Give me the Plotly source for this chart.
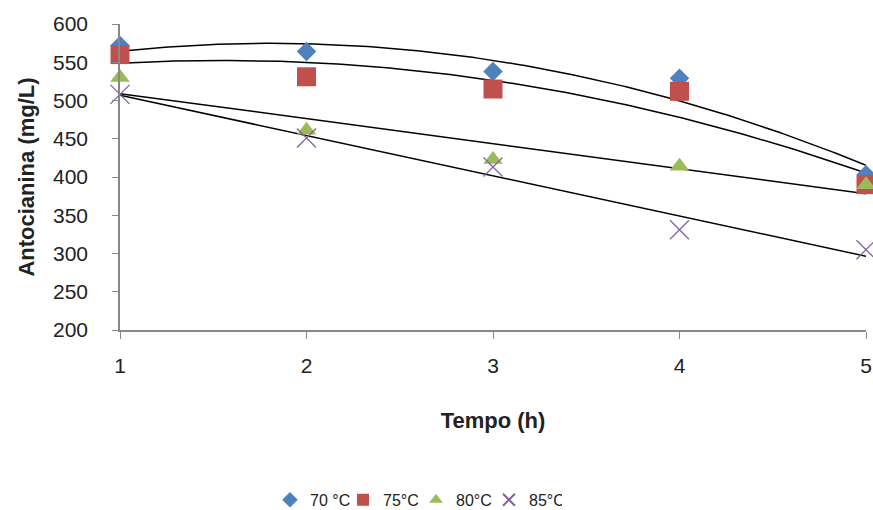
import numpy as np
import plotly.graph_objects as go

tempo = [1, 2, 3, 4, 5]
s70 = [572, 564, 538, 529, 403]
s75 = [560, 531, 515, 512, 390]
s80 = [530, 461, 423, 414, 390]
s85 = [508, 451, 413, 331, 305]
names = ["70 °C", "75°C", "80°C", "85°C"]
colors = ["#4F81BD", "#C0504D", "#9BBB59", "#8064A2"]
symbols = ["diamond", "square", "triangle-up", "x-thin-open"]
sizes = [15, 19, 17, 19]
trend_order = [2, 2, 1, 1]

fig = go.Figure()
xs = np.linspace(1, 5, 200)
for ys, order in zip([s70, s75, s80, s85], trend_order):
    c = np.polyfit(tempo, ys, order)
    fig.add_trace(go.Scatter(x=xs, y=np.polyval(c, xs), mode="lines",
                             line=dict(color="black", width=1.5),
                             showlegend=False, hoverinfo="skip"))
for ys, n, col, sym, sz in zip([s70, s75, s80, s85], names, colors, symbols, sizes):
    marker = dict(symbol=sym, size=sz, color=col)
    if sym == "x-thin-open":
        marker["line"] = dict(color="#A493CB", width=1.3)
    fig.add_trace(go.Scatter(x=tempo, y=ys, mode="markers", name=n, marker=marker,
                             cliponaxis=False))

axfont = dict(family="Liberation Sans", size=21, color="#222")
fig.update_layout(
    width=873, height=510,
    margin=dict(l=120, r=7, t=24, b=180),
    plot_bgcolor="white", paper_bgcolor="white",
    font=dict(family="Liberation Sans", color="#222"),
    xaxis=dict(range=[1, 5], tickvals=tempo, ticks="outside", ticklen=7,
               tickcolor="#888", showline=True, linecolor="#888", linewidth=1.5,
               showgrid=False, zeroline=False, tickfont=axfont, ticklabelstandoff=9,
               automargin=False,
               title=dict(text="<b>Tempo (h)</b>", font=dict(size=22), standoff=37)),
    yaxis=dict(range=[200, 600], dtick=50, ticks="outside", ticklen=6,
               tickcolor="#888", showline=True, linecolor="#888", linewidth=1.5,
               showgrid=False, zeroline=False, tickfont=axfont, ticklabelstandoff=20,
               automargin=False,
               title=dict(text="<b>Antocianina (mg/L)</b>", font=dict(size=22), standoff=12)),
    legend=dict(orientation="h", xref="container", yref="container",
                x=0.4765, y=0.02, xanchor="center", yanchor="middle",
                font=dict(size=16), itemsizing="constant", entrywidth=28,
                tracegroupgap=0),
)
fig.write_html("out.html")
